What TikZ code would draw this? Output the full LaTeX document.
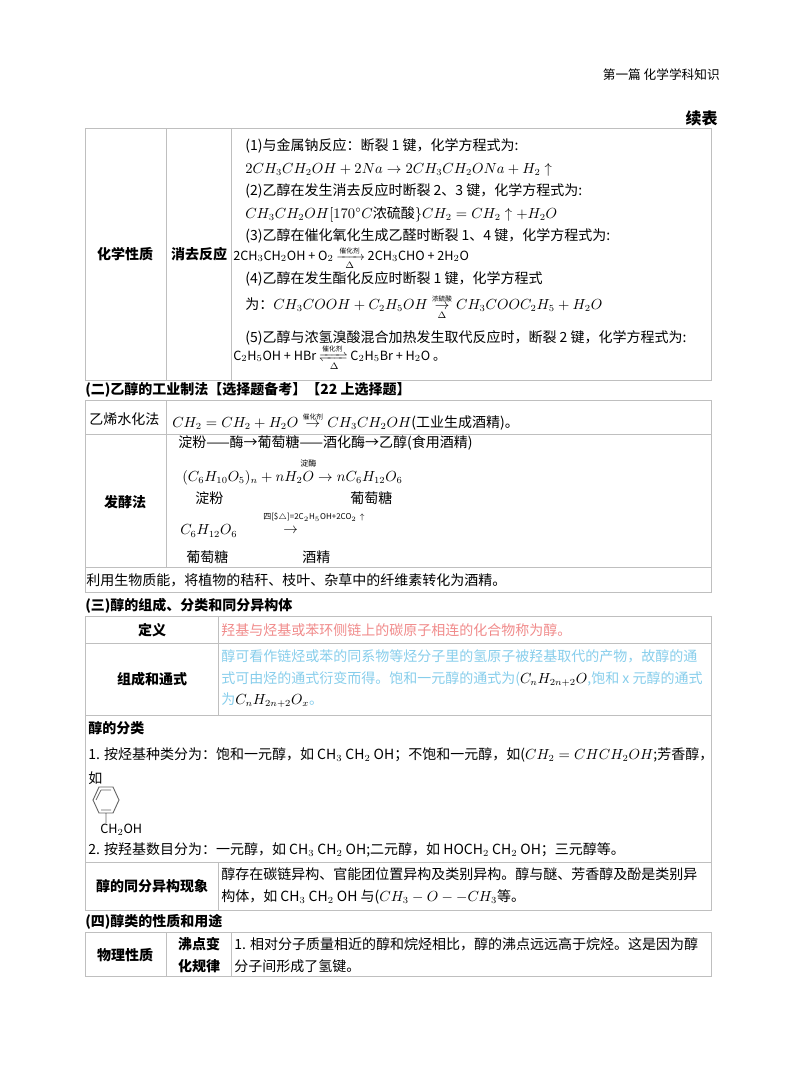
\documentclass[tikz,border=0pt]{standalone}
\usepackage{amsmath}
\usepackage{mathtools}
\usepackage{fontspec}
\setmainfont{Noto Sans CJK SC}
\begin{document}
\begin{tikzpicture}[x=0.75pt,y=-0.75pt,
 t/.style={anchor=west,inner sep=0,font=\fontsize{10.5}{12}\selectfont},
 s/.style={anchor=west,inner sep=0,font=\fontsize{6}{7}\selectfont},
 h/.style={anchor=west,inner sep=0,font=\fontsize{10.5}{12}\selectfont\bfseries},
 c/.style={inner sep=0,font=\fontsize{10.5}{12}\selectfont\bfseries},
 g/.style={draw=black!25,line width=0.6pt}]
\useasboundingbox (0,0) rectangle (800,1078);
\definecolor{pk}{HTML}{F08A8A}\definecolor{bl}{HTML}{86CDEB}
\node[anchor=east,inner sep=0,font=\fontsize{9.5}{11}\selectfont] (hd) at (720,75) {第一篇\ 化学学科知识};
\node[anchor=east,inner sep=0,font=\fontsize{12}{14}\selectfont\bfseries] (xb) at (718,118) {续表};
% table 1
\draw[g] (85,128) rectangle (711,380) (166,128)--(166,380) (231,128)--(231,380);
\node[c] (a1) at (125,254) {化学性质};
\node[c] (a2) at (199,254) {消去反应};
\node[t] (l1) at (245,146) {(1)与金属钠反应：断裂 1 键，化学方程式为:};
\node[t] (l2) at (245,170) {$2CH_3CH_2OH+2Na\rightarrow 2CH_3CH_2ONa+H_2\uparrow$};
\node[t] (l3) at (245,191) {(2)乙醇在发生消去反应时断裂 2、3 键，化学方程式为:};
\node[t] (l4) at (245,214) {$CH_3CH_2OH[170^\circ C$\textit{浓硫酸}$\}CH_2=CH_2\uparrow+H_2O$};
\node[t] (l5) at (245,236) {(3)乙醇在催化氧化生成乙醛时断裂 1、4 键，化学方程式为:};
\node[t] (l6) at (233,258) {\fontsize{9.5}{11}\selectfont 2CH$_3$CH$_2$OH + O$_2$ $\xrightarrow[\Delta]{\text{\tiny 催化剂}}$ 2CH$_3$CHO + 2H$_2$O};
\node[t] (l7) at (245,279) {(4)乙醇在发生酯化反应时断裂 1 键，化学方程式};
\node[t] (l8) at (245,307) {为：$CH_3COOH+C_2H_5OH\underset{\Delta}{\overset{\text{\tiny\itshape 浓硫酸}}{\rightarrow}}CH_3COOC_2H_5+H_2O$};
\node[t] (l9) at (245,338) {(5)乙醇与浓氢溴酸混合加热发生取代反应时，断裂 2 键，化学方程式为:};
\node[t] (l10) at (233,358) {\fontsize{9.5}{11}\selectfont C$_2$H$_5$OH + HBr $\xrightleftharpoons[\Delta]{\text{\tiny 催化剂}}$ C$_2$H$_5$Br + H$_2$O 。};
% section 2
\node[h] (s2) at (85,390) {(二)乙醇的工业制法【选择题备考】【22 上选择题】};
\draw[g] (85,400) rectangle (711,592) (85,434)--(711,434) (85,567)--(711,567) (166,400)--(166,567);
\node[t] (b1) at (89,419) {乙烯水化法};
\node[t] (b2) at (172,421) {$CH_2=CH_2+H_2O\overset{\text{\tiny\itshape 催化剂}}{\ \rightarrow\ }CH_3CH_2OH$(工业生成酒精)。};
\node[c] (b3) at (125,502) {发酵法};
\node[t] (b4) at (178,443) {淀粉——酶→葡萄糖——酒化酶→乙醇(食用酒精)};
\node[s] (b5) at (300,463) {\itshape 淀酶};
\node[t] (b6) at (182,478) {$(C_6H_{10}O_5)_n+nH_2O\rightarrow nC_6H_{12}O_6$};
\node[t] (b7) at (195,498) {淀粉};
\node[t] (b8) at (350,498) {葡萄糖};
\node[s] (b9) at (263,517) {\itshape 四[\$$\triangle$]=2C$_2$H$_5$OH+2CO$_2\uparrow$};
\node[t] (b10) at (180,531) {$C_6H_{12}O_6$};
\node[t] (b11) at (283,531) {$\rightarrow$};
\node[t] (b12) at (186,557) {葡萄糖};
\node[t] (b13) at (302,557) {酒精};
\node[t] (b14) at (86,580) {利用生物质能，将植物的秸秆、枝叶、杂草中的纤维素转化为酒精。};
% section 3
\node[h] (s3) at (85,606) {(三)醇的组成、分类和同分异构体};
\draw[g] (85,616) rectangle (711,910) (85,643)--(711,643) (85,715)--(711,715) (85,862)--(711,862) (218,616)--(218,715) (218,862)--(218,910);
\node[c] (c1) at (152,630) {定义};
\node[t,text=pk] (c2) at (221,630) {羟基与烃基或苯环侧链上的碳原子相连的化合物称为醇。};
\node[c] (c3) at (152,679) {组成和通式};
\node[t,text=bl] (c4) at (221,656) {醇可看作链烃或苯的同系物等烃分子里的氢原子被羟基取代的产物，故醇的通};
\node[t,text=bl] (c5) at (221,679) {式可由烃的通式衍变而得。饱和一元醇的通式为(\textcolor{black}{$C_nH_{2n+2}O$},饱和 x 元醇的通式};
\node[t,text=bl] (c6) at (221,700) {为\textcolor{black}{$C_nH_{2n+2}O_x$}。};
\node[h] (c7) at (88,728) {醇的分类};
\node[t] (c8) at (88,755) {1. 按烃基种类分为：饱和一元醇，如 CH$_3$\ CH$_2$\ OH；不饱和一元醇，如($CH_2=CHCH_2OH$;芳香醇，};
\node[t] (c9) at (88,778) {如};
\draw[black!60,line width=0.7pt] (93,800)--(99,787)--(113,787)--(119,800)--(113,813)--(99,813)--cycle (106,813)--(106,823);
\draw[black!60,line width=0.6pt] (96,800)--(101,790) (101,790)--(111,790) (111,810)--(101,810);
\node[t,font=\fontsize{9.5}{11}\selectfont] (c10) at (100,830) {CH$_2$OH};
\node[t] (c11) at (88,850) {2. 按羟基数目分为：一元醇，如 CH$_3$\ CH$_2$\ OH;二元醇，如 HOCH$_2$\ CH$_2$\ OH；三元醇等。};
\node[c] (c12) at (152,886) {醇的同分异构现象};
\node[t] (c13) at (221,874) {醇存在碳链异构、官能团位置异构及类别异构。醇与醚、芳香醇及酚是类别异};
\node[t] (c14) at (221,897) {构体，如 CH$_3$\ CH$_2$\ OH 与($CH_3-O--CH_3$等。};
% section 4
\node[h] (s4) at (85,922) {(四)醇类的性质和用途};
\draw[g] (85,932) rectangle (711,976) (166,932)--(166,976) (231,932)--(231,976);
\node[c] (d1) at (125,955) {物理性质};
\node[c] (d2) at (199,944) {沸点变};
\node[c] (d3) at (199,966) {化规律};
\node[t] (d4) at (234,944) {1. 相对分子质量相近的醇和烷烃相比，醇的沸点远远高于烷烃。这是因为醇};
\node[t] (d5) at (234,966) {分子间形成了氢键。};
\end{tikzpicture}
\end{document}
